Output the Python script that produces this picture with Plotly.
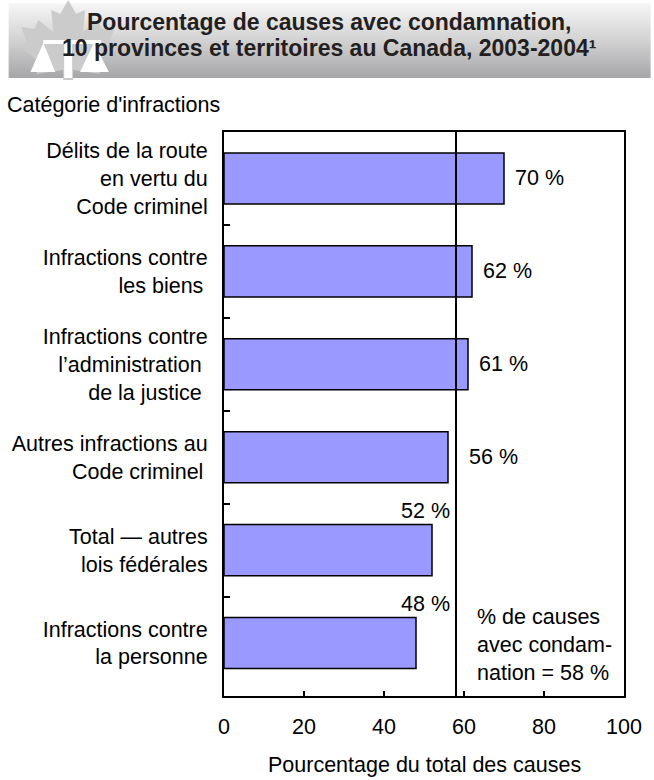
import base64
import plotly.graph_objects as go

# ---------------- data ----------------
categories = [
    "Délits de la route<br>en vertu du<br>Code criminel",
    "Infractions contre<br>les biens\u2009",
    "Infractions contre<br>l’administration\u00a0<br>de la justice\u00a0",
    "Autres infractions au<br>Code criminel\u2009",
    "Total — autres<br>lois fédérales",
    "Infractions contre<br>la personne",
]
values = [70, 62, 61, 56, 52, 48]
average = 58
x_ticks = [0, 20, 40, 60, 80, 100]

title_lines = [
    "Pourcentage de causes avec condamnation,",
    "10 provinces et territoires au Canada, 2003-2004¹",
]
y_title = "Catégorie d'infractions"
x_title = "Pourcentage du total des causes"
avg_note = "% de causes<br>avec condam-<br>nation = {} %"

# label placement style per bar (not data)
label_place = ["right", "right", "right", "right_far", "above", "above"]

# ---------------- layout constants ----------------
W, H = 654, 780
ML, MR, MT, MB = 224, 27, 132, 84
PW, PH = W - ML - MR, H - MT - MB
FONT = "Liberation Sans, Arial, Helvetica, sans-serif"
FS = 21.5
BAR_COLOR = "#9999ff"


def px_x(px):
    return (px - ML) / PW


def px_y(py):
    return (H - MB - py) / PH


fig = go.Figure()
fig.add_trace(go.Bar(
    x=values, y=categories, orientation="h",
    width=0.55,
    marker=dict(color=BAR_COLOR, line=dict(color="black", width=1.5)),
    hoverinfo="skip",
))

# average line
fig.add_shape(type="line", xref="x", yref="paper", x0=average, x1=average,
              y0=0, y1=1, line=dict(color="black", width=2), layer="above")

annotations = []
for cat, v, place in zip(categories, values, label_place):
    txt = f"{v} %"
    if place == "right":
        annotations.append(dict(x=v, y=cat, xref="x", yref="y", text=txt,
                                xanchor="left", yanchor="middle", xshift=9,
                                showarrow=False))
    elif place == "right_far":
        annotations.append(dict(x=v, y=cat, xref="x", yref="y", text=txt,
                                xanchor="left", yanchor="middle", xshift=19,
                                showarrow=False))
    else:
        annotations.append(dict(x=average, y=cat, xref="x", yref="y", text=txt,
                                xanchor="right", yanchor="middle", xshift=-4,
                                yshift=39, showarrow=False))

# average note
annotations.append(dict(x=average, y=px_y(645), xref="x", yref="paper",
                        text=avg_note.format(average), align="left",
                        xanchor="left", yanchor="middle", xshift=19,
                        showarrow=False))

# y title (top-left)
annotations.append(dict(x=px_x(3), y=px_y(105), xref="paper", yref="paper",
                        text=y_title, xanchor="left", yanchor="middle",
                        showarrow=False))
# x title
annotations.append(dict(x=0.5, y=px_y(765), xref="paper", yref="paper",
                        text=x_title, xanchor="center", yanchor="middle",
                        showarrow=False))
# header title lines
for line, cy in zip(title_lines, [22, 48]):
    annotations.append(dict(x=px_x(330), y=px_y(cy), xref="paper", yref="paper",
                            text=f"<b>{line}</b>", xanchor="center",
                            yanchor="middle", showarrow=False,
                            font=dict(size=23, color="#231f20", family=FONT)))

# header background (gradient band with maple leaf + scales emblem)
right_half = [(67, 0), (75, 14), (84, 10), (82, 32), (97, 20), (101, 29),
              (114, 27), (109, 42), (116, 46), (96, 62), (99, 74), (72, 70),
              (72, 80)]
left_half = [(134 - x, y) for x, y in reversed(right_half)]
leaf_pts = " ".join(f"{x},{y}" for x, y in right_half + left_half)
svg = f'''<svg xmlns="http://www.w3.org/2000/svg" width="654" height="80" viewBox="0 0 654 80" preserveAspectRatio="none">
<defs><linearGradient id="g" x1="0" y1="0" x2="0" y2="1">
<stop offset="0" stop-color="#f6f6f6"/><stop offset="0.5" stop-color="#d2d2d3"/><stop offset="1" stop-color="#a6a6a9"/>
</linearGradient></defs>
<rect x="7" y="3" width="647" height="75" fill="url(#g)"/>
<polygon points="{leaf_pts}" fill="#cbcbcc"/>
<rect x="42" y="40" width="58" height="4" fill="#ffffff"/>
<rect x="63" y="40" width="8" height="38" fill="#ffffff"/>
<polygon points="42,43 29,72 54,72" fill="#ffffff"/>
<polygon points="93,43 79,72 108,72" fill="#ffffff"/>
</svg>'''
src = "data:image/svg+xml;base64," + base64.b64encode(svg.encode()).decode()

fig.update_layout(
    width=W, height=H, autosize=False,
    margin=dict(l=ML, r=MR, t=MT, b=MB, pad=0),
    paper_bgcolor="white", plot_bgcolor="white",
    font=dict(family=FONT, size=FS, color="black"),
    showlegend=False,
    annotations=annotations,
    images=[dict(source=src, xref="paper", yref="paper",
                 x=px_x(0), y=px_y(0), sizex=W / PW, sizey=80 / PH,
                 xanchor="left", yanchor="top", sizing="stretch",
                 layer="below")],
    bargap=0.45,
)
fig.update_xaxes(range=[0, 100], tickvals=x_ticks, ticks="inside", ticklen=5,
                 tickwidth=1.5, tickcolor="black", showline=True, mirror=True,
                 linecolor="black", linewidth=2, showgrid=False, zeroline=False,
                 ticklabelstandoff=10, tickfont=dict(size=FS))
fig.update_yaxes(type="category", categoryorder="array", categoryarray=categories,
                 autorange="reversed", tickson="boundaries", ticks="inside",
                 ticklen=6, tickwidth=1.5, tickcolor="black", showline=True,
                 mirror=True, linecolor="black", linewidth=2, showgrid=False,
                 zeroline=False, ticklabelstandoff=10, tickfont=dict(size=FS))

fig.write_html(
    "out.html",
    config={"displayModeBar": False},
    post_script="document.body.style.margin='0';document.body.style.padding='0';"
                "document.body.style.overflow='hidden';",
)
